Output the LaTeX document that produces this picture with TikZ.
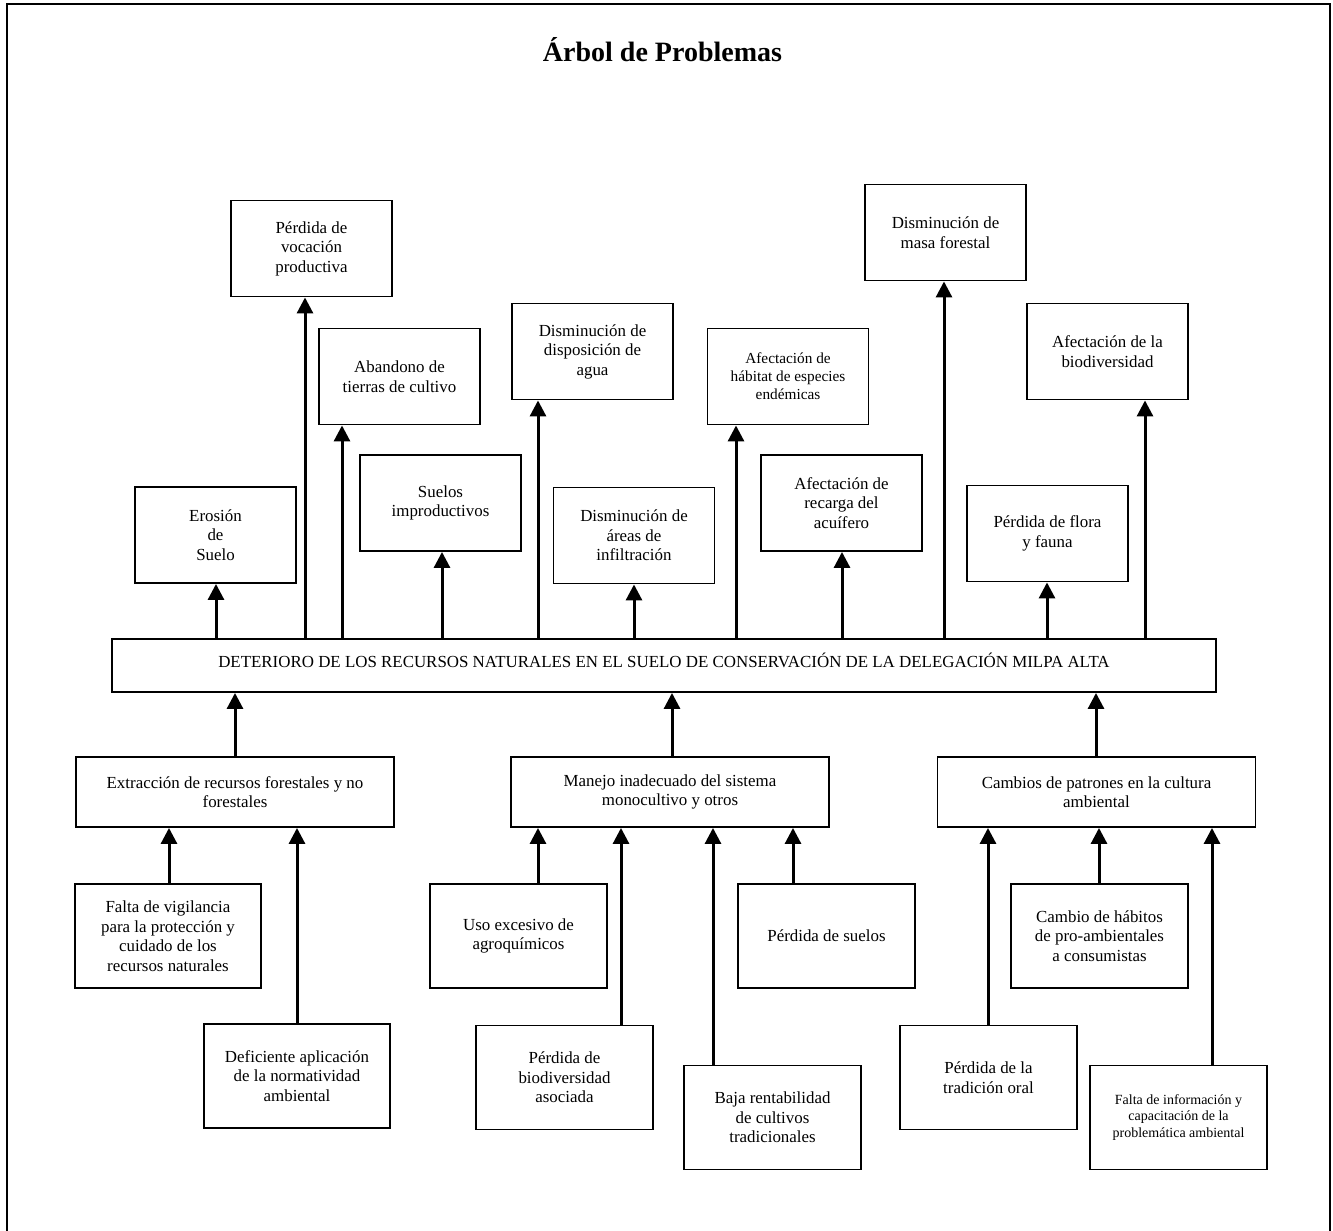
\documentclass[tikz,border=0pt]{standalone}
\usepackage{fontspec}
\setmainfont{Liberation Serif}
\usetikzlibrary{arrows.meta}

\newcommand{\cajafont}{\fontsize{16.9}{19.5}\selectfont}
\newcommand{\chicafont}{\fontsize{15.3}{18}\selectfont}
\newcommand{\minifont}{\fontsize{14}{16.5}\selectfont}

\begin{document}
\begin{tikzpicture}[x=1pt,y=-1pt,
    caja/.style={draw, line width=1.9pt, align=center, inner sep=0pt, font=\cajafont,
      minimum width=161pt, minimum height=96pt},
    causa/.style={caja, minimum width=318pt, minimum height=70pt},
    raiz/.style={caja, minimum width=177pt, minimum height=104pt},
    flecha/.style={line width=3pt, -{Triangle[width=16pt,length=16pt]}}]
  \useasboundingbox (0,0) rectangle (1333,1231);
  \draw[line width=2.2pt] (7,1231) -- (7,4) -- (1330,4) -- (1330,1231);

  \node[font=\bfseries\fontsize{28}{32}\selectfont, anchor=base] (titulo) at (662.5,62) {Árbol de Problemas};

  % problema central
  \node[caja, minimum width=1104pt, minimum height=53pt, text height=12pt, text depth=8pt] (deterioro) at (664,665.5)
    {DETERIORO DE LOS RECURSOS NATURALES EN EL SUELO DE CONSERVACIÓN DE LA DELEGACIÓN MILPA ALTA};

  % efectos
  \node[caja] (ero) at (215.5,535) {Erosión\\de\\Suelo};
  \node[caja] (voc) at (311.5,248.5) {Pérdida de\\vocación\\productiva};
  \node[caja] (aba) at (399.5,376.5) {Abandono de\\tierras de cultivo};
  \node[caja] (sue) at (440.5,503) {Suelos\\improductivos};
  \node[caja] (agu) at (592.5,351.5) {Disminución de\\disposición de\\agua};
  \node[caja] (inf) at (634,535.5) {Disminución de\\áreas de\\infiltración};
  \node[caja, font=\chicafont] (hab) at (788,376.5) {Afectación de\\hábitat de especies\\endémicas};
  \node[caja] (rec) at (841.5,503) {Afectación de\\recarga del\\acuífero};
  \node[caja] (mas) at (945.5,232.5) {Disminución de\\masa forestal};
  \node[caja] (flo) at (1047.5,533.5) {Pérdida de flora\\y fauna};
  \node[caja] (bio) at (1107.5,351.5) {Afectación de la\\biodiversidad};

  \foreach \n/\x in {ero/216, voc/305, aba/342, sue/442, agu/538, inf/634, hab/736, rec/842, mas/944, flo/1047, bio/1145}
    \draw[flecha] (deterioro.north -| \x,0) -- (\n.south -| \x,0);

  % causas
  \node[causa] (ext) at (235,792) {Extracción de recursos forestales y no\\forestales};
  \node[causa] (man) at (670,792) {Manejo inadecuado del sistema\\monocultivo y otros};
  \node[causa] (cam) at (1096.5,792) {Cambios de patrones en la cultura\\ambiental};

  \foreach \n/\x in {ext/235, man/672, cam/1096}
    \draw[flecha] (\n.north -| \x,0) -- (deterioro.south -| \x,0);

  % causas de las causas
  \node[raiz, minimum width=186pt] (vig) at (168,936) {Falta de vigilancia\\para la protección y\\cuidado de los\\recursos naturales};
  \node[raiz, minimum width=186pt] (def) at (297,1076) {Deficiente aplicación\\de la normatividad\\ambiental};
  \node[raiz] (uso) at (518.5,936) {Uso excesivo de\\agroquímicos};
  \node[raiz] (bia) at (564.5,1077.5) {Pérdida de\\biodiversidad\\asociada};
  \node[raiz] (baj) at (772.5,1117.5) {Baja rentabilidad\\de cultivos\\tradicionales};
  \node[raiz] (psu) at (826.5,936) {Pérdida de suelos};
  \node[raiz] (tra) at (988.5,1077.5) {Pérdida de la\\tradición oral};
  \node[raiz] (hbt) at (1099.5,936) {Cambio de hábitos\\de pro-ambientales\\a consumistas};
  \node[raiz, font=\minifont] (fin) at (1178.5,1117.5) {Falta de información y\\capacitación de la\\problemática ambiental};

  \foreach \r/\c/\x in {vig/ext/169, def/ext/297, uso/man/538, bia/man/621, baj/man/713, psu/man/793, tra/cam/988, hbt/cam/1099, fin/cam/1212}
    \draw[flecha] (\r.north -| \x,0) -- (\c.south -| \x,0);
\end{tikzpicture}
\end{document}
